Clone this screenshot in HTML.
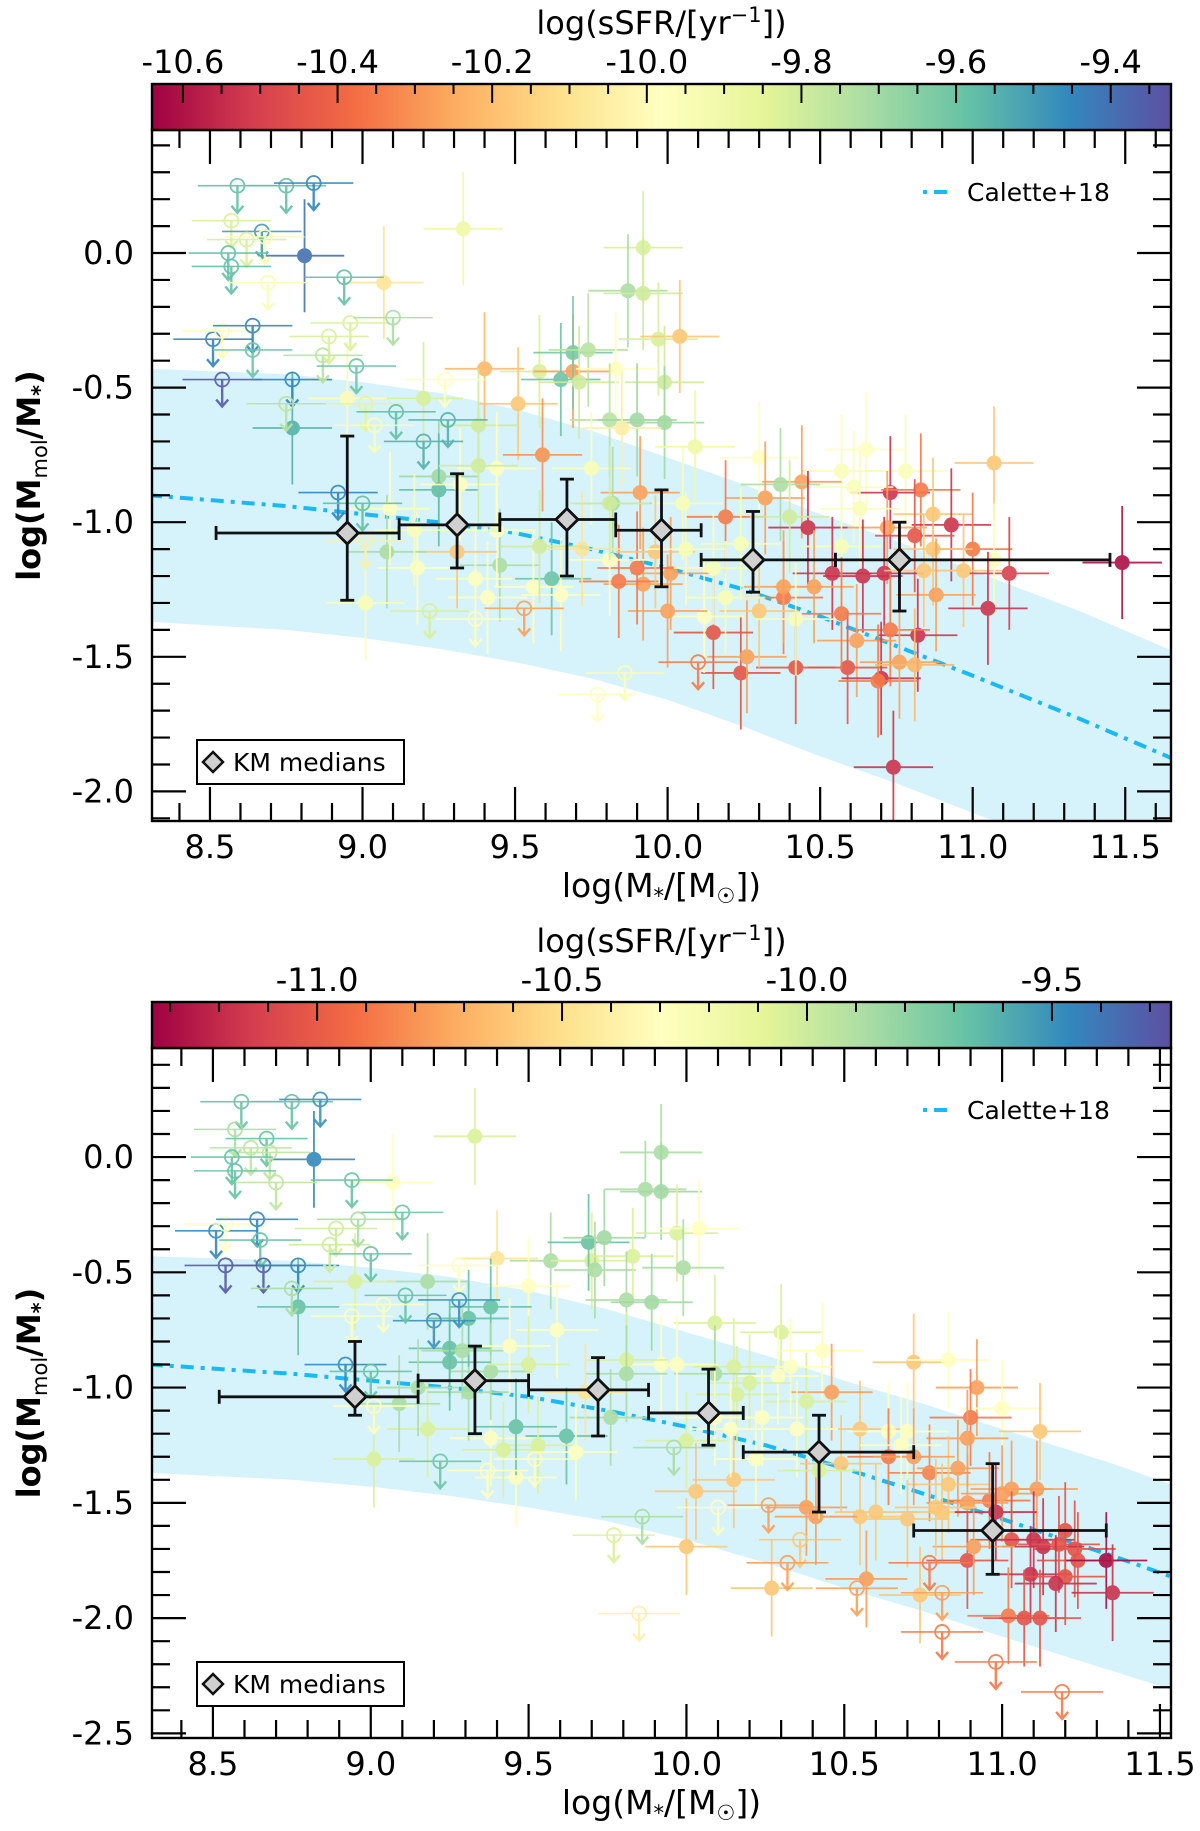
<!DOCTYPE html>
<html><head><meta charset="utf-8"><title>Mmol/M* vs M*</title>
<style>
html,body{margin:0;padding:0;background:#fff;}
svg{display:block;font-family:"DejaVu Sans","Liberation Sans",sans-serif;}
</style></head>
<body>
<svg id="fig" xmlns="http://www.w3.org/2000/svg" width="1200" height="1831" viewBox="0 0 1200 1831">
<defs>
<linearGradient id="spec" x1="0" x2="1" y1="0" y2="0">
<stop offset="0" stop-color="#9e0142"/><stop offset="0.1" stop-color="#d53e4f"/><stop offset="0.2" stop-color="#f46d43"/><stop offset="0.3" stop-color="#fdae61"/><stop offset="0.4" stop-color="#fee08b"/><stop offset="0.5" stop-color="#ffffbf"/><stop offset="0.6" stop-color="#e6f598"/><stop offset="0.7" stop-color="#abdda4"/><stop offset="0.8" stop-color="#66c2a5"/><stop offset="0.9" stop-color="#3288bd"/><stop offset="1" stop-color="#5e4fa2"/>
</linearGradient>
</defs>
</svg>
<script>
// ---------------- DATA ----------------
const topLimits = [[8.59,0.25,-9.58],[8.75,0.25,-9.58],[8.84,0.26,-9.45],[8.57,0.12,-9.82],[8.67,0.08,-9.5],[8.62,0.05,-9.82],[8.68,0.06,-9.95],[8.56,0.0,-9.58],[8.57,-0.05,-9.58],[8.69,-0.11,-9.95],[8.94,-0.09,-9.58],[8.51,-0.32,-9.45],[8.54,-0.29,-10.0],[8.64,-0.27,-9.45],[8.64,-0.36,-9.6],[8.54,-0.47,-9.35],[8.77,-0.47,-9.45],[8.75,-0.56,-9.75],[8.87,-0.38,-9.75],[8.89,-0.31,-9.82],[8.96,-0.26,-9.82],[9.1,-0.24,-9.72],[8.98,-0.42,-9.6],[8.92,-0.89,-9.45],[9.0,-0.93,-9.58],[9.01,-0.56,-9.85],[9.27,-0.47,-9.98],[9.28,-0.62,-9.55],[9.2,-0.7,-9.55],[9.11,-0.59,-9.58],[9.04,-0.64,-9.95],[9.22,-1.33,-9.82],[9.37,-1.36,-9.98],[9.53,-1.32,-10.27],[10.1,-1.52,-10.35],[9.86,-1.56,-9.95],[9.77,-1.64,-9.98],[9.01,-1.07,-10.05]];
const topPoints = [[8.81,-0.01,-9.4],[8.77,-0.65,-9.55],[9.07,-0.11,-10.09],[9.33,0.09,-9.9],[9.92,0.02,-9.82],[9.87,-0.14,-9.72],[9.92,-0.15,-9.8],[9.97,-0.32,-9.82],[10.04,-0.31,-10.18],[9.4,-0.43,-10.22],[9.58,-0.44,-9.82],[9.69,-0.44,-10.27],[9.65,-0.47,-9.6],[9.69,-0.37,-9.62],[9.74,-0.36,-9.75],[9.71,-0.48,-9.8],[9.83,-0.43,-9.98],[9.99,-0.48,-9.8],[9.51,-0.56,-10.18],[9.81,-0.62,-9.75],[9.9,-0.62,-9.7],[9.99,-0.63,-9.7],[9.85,-0.65,-10.05],[9.38,-0.64,-9.8],[9.2,-0.54,-9.82],[8.95,-0.54,-10.0],[9.59,-0.75,-10.3],[10.09,-0.72,-9.9],[10.3,-0.76,-9.98],[10.65,-0.73,-9.98],[11.07,-0.78,-10.18],[10.57,-0.81,-9.95],[10.78,-0.81,-9.95],[10.44,-0.85,-10.27],[10.37,-0.86,-9.72],[10.73,-0.89,-10.53],[10.83,-0.88,-10.35],[10.61,-0.87,-9.95],[10.32,-0.91,-10.27],[9.75,-0.8,-9.95],[9.44,-0.8,-9.98],[9.25,-0.83,-9.7],[9.25,-0.88,-9.58],[9.32,-0.86,-9.98],[9.38,-0.79,-9.8],[9.91,-0.89,-10.27],[10.05,-0.93,-9.95],[9.82,-0.93,-9.72],[10.87,-0.97,-10.18],[10.93,-1.01,-10.53],[10.46,-1.02,-10.53],[10.19,-0.98,-10.35],[10.4,-0.98,-9.8],[10.72,-1.02,-10.27],[10.81,-1.05,-10.44],[11.0,-1.1,-10.35],[10.87,-1.1,-10.18],[10.57,-1.09,-9.95],[10.54,-1.19,-10.53],[10.64,-1.2,-10.53],[10.71,-1.19,-10.53],[10.84,-1.18,-10.18],[10.97,-1.18,-10.18],[11.12,-1.19,-10.5],[11.07,-1.14,-9.95],[11.49,-1.15,-10.61],[11.05,-1.32,-10.53],[10.88,-1.27,-10.27],[10.82,-1.42,-10.53],[10.73,-1.4,-10.35],[10.62,-1.44,-10.27],[10.59,-1.54,-10.44],[10.7,-1.58,-10.53],[10.69,-1.59,-10.35],[10.76,-1.52,-10.27],[10.81,-1.53,-10.22],[10.74,-1.91,-10.53],[10.42,-1.54,-10.44],[10.24,-1.56,-10.44],[10.26,-1.5,-10.27],[10.15,-1.41,-10.44],[10.38,-1.28,-10.35],[10.48,-1.24,-10.27],[10.38,-1.24,-10.27],[10.3,-1.33,-10.18],[10.57,-1.34,-10.35],[10.42,-1.36,-9.95],[10.12,-1.35,-9.98],[10.19,-1.28,-9.95],[10.0,-1.33,-10.27],[10.01,-1.19,-10.27],[9.92,-1.23,-10.27],[9.84,-1.22,-10.35],[9.9,-1.17,-10.35],[9.96,-1.11,-10.18],[10.06,-1.1,-9.95],[10.15,-1.17,-9.95],[10.24,-1.08,-9.95],[9.62,-1.21,-9.6],[9.45,-1.16,-9.72],[9.56,-1.24,-9.98],[9.37,-1.21,-9.98],[9.41,-1.28,-9.98],[9.65,-1.27,-9.98],[9.72,-1.1,-10.09],[9.58,-1.09,-9.8],[9.44,-1.03,-9.98],[9.31,-1.11,-10.18],[9.18,-1.17,-9.98],[9.08,-1.11,-9.72],[9.01,-1.3,-9.95],[9.09,-0.95,-9.98],[9.17,-1.03,-9.95],[9.81,-1.14,-9.98],[9.81,-0.93,-9.8],[10.63,-0.95,-9.95]];
const topMedX = [8.95,9.31,9.67,9.98,10.28,10.76];
const topMedY = [-1.04,-1.01,-0.99,-1.03,-1.14,-1.14];
const topMedXlo = [8.52,9.12,9.45,9.83,10.11,10.55];
const topMedXhi = [9.12,9.45,9.83,10.11,10.55,11.45];
const topMedYlo = [-1.29,-1.17,-1.2,-1.24,-1.26,-1.33];
const topMedYhi = [-0.68,-0.82,-0.84,-0.88,-0.96,-1.0];
const topCbarTicks = [-10.6,-10.4,-10.2,-10.0,-9.8,-9.6,-9.4];
const topCbarLabels = ["-10.6","-10.4","-10.2","-10.0","-9.8","-9.6","-9.4"];

const botLimits = [[8.59,0.24,-9.68],[8.75,0.24,-9.68],[8.84,0.25,-9.5],[8.57,0.12,-9.88],[8.67,0.08,-9.68],[8.62,0.04,-9.95],[8.68,0.02,-9.95],[8.56,0.0,-9.68],[8.57,-0.06,-9.68],[8.7,-0.11,-9.95],[8.94,-0.1,-9.68],[8.51,-0.32,-9.47],[8.54,-0.29,-10.3],[8.64,-0.27,-9.47],[8.65,-0.36,-9.68],[8.54,-0.47,-9.3],[8.66,-0.47,-9.3],[8.77,-0.47,-9.47],[8.75,-0.57,-9.88],[8.87,-0.38,-10.0],[8.89,-0.31,-10.0],[8.96,-0.27,-9.88],[9.1,-0.24,-9.7],[9.0,-0.42,-9.68],[8.92,-0.9,-9.47],[9.0,-0.93,-9.68],[8.94,-0.69,-10.3],[9.28,-0.47,-10.3],[9.28,-0.62,-9.5],[9.2,-0.71,-9.5],[9.11,-0.6,-9.68],[9.04,-0.64,-10.3],[9.22,-1.32,-9.7],[9.37,-1.36,-10.3],[9.52,-1.31,-10.3],[9.96,-1.26,-9.88],[9.77,-1.64,-10.05],[9.86,-1.56,-9.88],[9.85,-1.98,-10.4],[10.26,-1.51,-10.76],[10.36,-1.66,-10.61],[10.32,-1.76,-10.76],[10.54,-1.87,-10.76],[10.77,-1.76,-10.88],[10.81,-1.89,-10.76],[10.81,-2.06,-10.88],[10.98,-2.19,-10.88],[11.19,-2.32,-10.88],[10.1,-1.52,-10.3],[9.01,-1.08,-10.3]];
const botPoints = [[8.82,-0.01,-9.47],[8.77,-0.65,-9.68],[9.07,-0.11,-10.3],[9.33,0.09,-10.05],[9.92,0.02,-9.88],[9.87,-0.14,-9.88],[9.92,-0.15,-9.85],[9.97,-0.33,-10.05],[10.04,-0.31,-10.3],[9.4,-0.44,-10.47],[9.57,-0.45,-9.88],[9.7,-0.45,-10.05],[9.69,-0.37,-9.68],[9.74,-0.35,-9.85],[9.71,-0.49,-9.88],[9.83,-0.43,-10.05],[9.99,-0.48,-9.88],[9.5,-0.56,-10.3],[9.81,-0.62,-9.88],[9.89,-0.63,-9.85],[9.59,-0.75,-10.3],[10.09,-0.72,-10.05],[10.3,-0.76,-10.05],[10.43,-0.84,-10.3],[10.72,-0.89,-10.61],[10.83,-0.88,-10.3],[10.92,-1.0,-10.76],[11.0,-1.09,-10.3],[11.12,-1.19,-10.61],[10.9,-1.13,-10.88],[10.89,-1.22,-10.76],[10.77,-1.37,-10.85],[10.86,-1.35,-10.76],[10.83,-1.42,-10.61],[11.03,-1.44,-10.76],[11.11,-1.44,-10.76],[10.96,-1.49,-10.88],[11.0,-1.46,-10.76],[10.89,-1.5,-10.76],[10.81,-1.54,-10.61],[10.98,-1.54,-11.17],[11.03,-1.66,-11.03],[11.1,-1.66,-11.17],[11.2,-1.62,-11.03],[11.23,-1.7,-11.03],[11.13,-1.69,-11.17],[11.18,-1.68,-11.03],[11.24,-1.75,-11.03],[11.33,-1.75,-11.3],[10.89,-1.75,-11.03],[10.91,-1.69,-10.76],[11.09,-1.81,-11.17],[11.2,-1.82,-11.03],[11.17,-1.85,-11.17],[11.35,-1.89,-11.17],[11.02,-1.99,-10.88],[11.07,-2.0,-11.03],[11.12,-2.0,-11.03],[10.74,-1.9,-10.61],[10.27,-1.87,-10.61],[10.57,-1.83,-10.76],[10.38,-1.52,-10.76],[10.55,-1.56,-10.61],[10.6,-1.54,-10.61],[10.7,-1.57,-10.61],[10.79,-1.52,-10.61],[10.0,-1.69,-10.61],[10.03,-1.45,-10.61],[10.15,-1.4,-10.61],[10.41,-1.56,-10.76],[10.49,-1.33,-10.61],[10.55,-1.18,-10.61],[10.64,-1.19,-10.3],[10.7,-1.19,-10.3],[10.64,-1.3,-10.88],[10.72,-1.3,-10.76],[10.68,-1.25,-10.3],[10.46,-1.02,-10.76],[10.38,-1.06,-10.05],[10.33,-0.91,-10.3],[10.29,-0.95,-10.3],[10.2,-0.98,-10.05],[10.15,-0.91,-10.05],[10.16,-1.03,-10.05],[10.09,-0.94,-9.88],[10.09,-1.13,-10.3],[10.0,-1.23,-10.05],[10.14,-1.18,-10.3],[10.24,-1.13,-10.3],[10.35,-1.18,-10.3],[10.42,-1.36,-10.05],[10.22,-1.31,-10.3],[9.97,-0.9,-10.3],[9.92,-0.9,-10.3],[9.81,-0.88,-10.05],[9.81,-0.94,-9.88],[9.76,-1.13,-9.88],[9.68,-1.02,-10.47],[9.62,-1.21,-9.68],[9.53,-1.25,-10.05],[9.65,-1.28,-10.3],[9.46,-1.39,-10.3],[9.38,-1.22,-10.3],[9.42,-1.27,-10.05],[9.46,-1.17,-9.68],[9.18,-1.18,-10.05],[9.01,-1.31,-10.05],[9.09,-1.07,-9.88],[9.31,-1.02,-9.88],[9.25,-0.83,-9.68],[9.31,-0.7,-9.68],[9.38,-0.65,-9.68],[9.29,-0.84,-9.88],[9.38,-0.93,-9.88],[9.5,-0.9,-10.05],[9.44,-0.82,-10.3],[9.18,-0.54,-9.88],[8.95,-0.54,-10.05],[9.25,-0.89,-9.68],[9.15,-1.0,-9.88]];
const botMedX = [8.95,9.33,9.72,10.07,10.42,10.97];
const botMedY = [-1.04,-0.97,-1.01,-1.11,-1.28,-1.62];
const botMedXlo = [8.52,9.15,9.5,9.88,10.18,10.72];
const botMedXhi = [9.15,9.5,9.88,10.18,10.72,11.33];
const botMedYlo = [-1.12,-1.2,-1.21,-1.25,-1.54,-1.81];
const botMedYhi = [-0.8,-0.82,-0.87,-0.92,-1.12,-1.33];
const botCbarTicks = [-11.0,-10.5,-10.0,-9.5];
const botCbarLabels = ["-11.0","-10.5","-10.0","-9.5"];

// model curves (shared)
const modelX = [8.3,8.75,9.0,9.25,9.5,9.75,10.0,10.25,10.5,10.75,11.0,11.35,11.7];
const bandUpper = [-0.43,-0.45,-0.48,-0.52,-0.58,-0.66,-0.76,-0.86,-0.97,-1.07,-1.18,-1.33,-1.5];
const bandLower = [-1.37,-1.4,-1.43,-1.47,-1.52,-1.58,-1.66,-1.76,-1.87,-1.97,-2.08,-2.23,-2.38];
const caletteY = [-0.9,-0.94,-0.97,-1.0,-1.04,-1.1,-1.17,-1.25,-1.35,-1.46,-1.57,-1.73,-1.9];

const topXTicks = [8.5,9.0,9.5,10.0,10.5,11.0,11.5];
const topYTicks = [0.0,-0.5,-1.0,-1.5,-2.0];
const botXTicks = [8.5,9.0,9.5,10.0,10.5,11.0,11.5];
const botYTicks = [0.0,-0.5,-1.0,-1.5,-2.0,-2.5];

// ---------------- DRAWING ----------------
const NS = "http://www.w3.org/2000/svg";
const svg = document.getElementById('fig');
const SPEC = ["#9e0142","#d53e4f","#f46d43","#fdae61","#fee08b","#ffffbf","#e6f598","#abdda4","#66c2a5","#3288bd","#5e4fa2"];
function hex(c){return [parseInt(c.slice(1,3),16),parseInt(c.slice(3,5),16),parseInt(c.slice(5,7),16)];}
function spectral(f){
  f=Math.max(0,Math.min(1,f));const p=f*10;const i=Math.min(9,Math.floor(p));const t=p-i;
  const a=hex(SPEC[i]),b=hex(SPEC[i+1]);
  return 'rgb('+a.map((v,k)=>Math.round(v+(b[k]-v)*t)).join(',')+')';
}
function mk(tag,attrs,parent){const e=document.createElementNS(NS,tag);for(const k in attrs)e.setAttribute(k,attrs[k]);(parent||svg).appendChild(e);return e;}
const ERRX=0.13, ERRY=0.21;

function panel(cfg){
  const g=mk('g',{});
  
  
  const X=v=>cfg.L+(v-cfg.xmin)/(cfg.xmax-cfg.xmin)*(cfg.R-cfg.L);
  const Y=v=>cfg.T+(cfg.ymax-v)/(cfg.ymax-cfg.ymin)*(cfg.B-cfg.T);
  const C=s=>spectral((s-cfg.vmin)/(cfg.vmax-cfg.vmin));
  const clip='clip'+cfg.id;
  const cp=mk('clipPath',{id:clip},g);mk('rect',{x:cfg.L,y:cfg.T,width:cfg.R-cfg.L,height:cfg.B-cfg.T},cp);
  const inner=mk('g',{'clip-path':'url(#'+clip+')'},g);
  let d='M'+modelX.map((x,i)=>X(x)+','+Y(bandUpper[i])).join(' L');
  d+=' L'+modelX.slice().reverse().map((x,i)=>X(x)+','+Y(bandLower[modelX.length-1-i])).join(' L')+'Z';
  const band=mk('path',{d:d,fill:'#d6f3fc'},inner);
  
  
  const line=mk('polyline',{points:modelX.map((x,i)=>X(x)+','+Y(caletteY[i])).join(' '),fill:'none',stroke:'#1ab8f5','stroke-width':4,'stroke-dasharray':'13 7 4 7'},inner);
  
  
  cfg.points.forEach(p=>{
    const c=C(p[2]);const cx=X(p[0]),cy=Y(p[1]);
    const e=mk('g',{stroke:c,'stroke-width':1.8,opacity:0.9},inner);
    
    
    mk('line',{x1:X(p[0]-ERRX),x2:X(p[0]+ERRX),y1:cy,y2:cy},e);
    mk('line',{x1:cx,x2:cx,y1:Y(p[1]+ERRY),y2:Y(p[1]-ERRY)},e);
    mk('circle',{cx:cx,cy:cy,r:7.5,fill:c,stroke:'none'},e);
  });
  cfg.limits.forEach(p=>{
    const c=C(p[2]);const cx=X(p[0]),cy=Y(p[1]);
    const e=mk('g',{stroke:c,'stroke-width':1.8,fill:'none',opacity:0.9},inner);
    
    
    mk('line',{x1:X(p[0]-ERRX),x2:X(p[0]+ERRX),y1:cy,y2:cy,'stroke-width':1.6},e);
    mk('circle',{cx:cx,cy:cy,r:7},e);
    mk('line',{x1:cx,x2:cx,y1:cy,y2:cy+27,'stroke-width':2.4},e);
    mk('polyline',{points:(cx-6)+','+(cy+20)+' '+cx+','+(cy+27)+' '+(cx+6)+','+(cy+20),'stroke-width':2.4},e);
  });
  cfg.medX.forEach((mx,i)=>{
    const e=mk('g',{stroke:'#111','stroke-width':2.8},inner);
    
    
    const cx=X(mx),cy=Y(cfg.medY[i]);
    const x1=X(cfg.medXlo[i]),x2=X(cfg.medXhi[i]),y1=Y(cfg.medYhi[i]),y2=Y(cfg.medYlo[i]);
    mk('line',{x1:x1,x2:x2,y1:cy,y2:cy},e);
    mk('line',{x1:cx,x2:cx,y1:y1,y2:y2},e);
    mk('line',{x1:x1,x2:x1,y1:cy-7,y2:cy+7},e);mk('line',{x1:x2,x2:x2,y1:cy-7,y2:cy+7},e);
    mk('line',{x1:cx-7,x2:cx+7,y1:y1,y2:y1},e);mk('line',{x1:cx-7,x2:cx+7,y1:y2,y2:y2},e);
    mk('polygon',{points:cx+','+(cy-11)+' '+(cx+11)+','+cy+' '+cx+','+(cy+11)+' '+(cx-11)+','+cy,fill:'#d0d0d0','stroke-width':2.8},e);
  });
  const fr=mk('rect',{x:cfg.L,y:cfg.T,width:cfg.R-cfg.L,height:cfg.B-cfg.T,fill:'none',stroke:'#000','stroke-width':2.4},g);
  
  
  const tk=mk('g',{stroke:'#000','stroke-width':2.2},g);
  for(let v=Math.ceil(cfg.xmin*10);v<=Math.floor(cfg.xmax*10);v++){
    const xv=v/10,major=(v%5===0),len=major?34:18,px=X(xv);
    mk('line',{x1:px,x2:px,y1:cfg.B,y2:cfg.B-len},tk);mk('line',{x1:px,x2:px,y1:cfg.T,y2:cfg.T+len},tk);
  }
  for(let v=Math.ceil(cfg.ymin*10);v<=Math.floor(cfg.ymax*10);v++){
    const yv=v/10,major=(v%5===0),len=major?34:18,py=Y(yv);
    mk('line',{x1:cfg.L,x2:cfg.L+len,y1:py,y2:py},tk);mk('line',{x1:cfg.R,x2:cfg.R-len,y1:py,y2:py},tk);
  }
  cfg.xticks.forEach(v=>{const t=mk('text',{x:X(v),y:cfg.B+37,'font-size':32,'text-anchor':'middle'},g);t.textContent=v.toFixed(1);
    });
  cfg.yticks.forEach(v=>{const t=mk('text',{x:cfg.L-18,y:Y(v)+11,'font-size':32,'text-anchor':'end'},g);t.textContent=v.toFixed(1);
    });
  const xt=mk('text',{x:(cfg.L+cfg.R)/2,y:cfg.B+76,'font-size':33,'text-anchor':'middle'},g);
  xt.innerHTML='log(M<tspan font-size="21" dy="6">*</tspan><tspan dy="-6">/[M</tspan><tspan font-size="21" dy="6">☉</tspan><tspan dy="-6">])</tspan>';
  
  const yc=(cfg.T+cfg.B)/2;
  const yt=mk('text',{x:40,y:yc,'font-size':32,'font-weight':'bold','text-anchor':'middle',transform:'rotate(-90 40 '+yc+')'},g);
  yt.innerHTML='log(M<tspan font-size="21" font-weight="normal" dy="7">mol</tspan><tspan dy="-7">/M</tspan><tspan font-size="21" dy="7">*</tspan><tspan dy="-7">)</tspan>';
  
  const cb=mk('g',{},g);
  
  mk('rect',{x:cfg.L,y:cfg.cbT,width:cfg.R-cfg.L,height:cfg.T-cfg.cbT,fill:'url(#spec)',stroke:'#000','stroke-width':2.4},cb);
  const CX=v=>cfg.L+(v-cfg.vmin)/(cfg.vmax-cfg.vmin)*(cfg.R-cfg.L);
  const step=cfg.cbMinor;
  for(let v=Math.ceil(cfg.vmin/step-1e-6);v<=Math.floor(cfg.vmax/step+1e-6);v++){
    const vv=v*step;const major=cfg.cbTicks.some(t=>Math.abs(t-vv)<1e-6);const px=CX(vv);
    mk('line',{x1:px,x2:px,y1:cfg.cbT,y2:cfg.cbT+(major?19:10),stroke:'#000','stroke-width':2},cb);
  }
  cfg.cbTicks.forEach((v,i)=>{const t=mk('text',{x:CX(v),y:cfg.cbT-11,'font-size':32,'text-anchor':'middle'},cb);t.textContent=cfg.cbLabels[i];
    });
  const ct=mk('text',{x:(cfg.L+cfg.R)/2,y:cfg.cbT-50,'font-size':32,'text-anchor':'middle'},cb);
  ct.innerHTML='log(sSFR/[yr<tspan font-size="21" dy="-12">−1</tspan><tspan dy="12">])</tspan>';
  
  const lg=mk('g',{},g);
  
  mk('line',{x1:923,x2:950,y1:cfg.T+62,y2:cfg.T+62,stroke:'#1ab8f5','stroke-width':4,'stroke-dasharray':'4 7 13 7'},lg);
  const lt=mk('text',{x:967,y:cfg.T+71,'font-size':25},lg);lt.textContent='Calette+18';
  const kg=mk('g',{},g);
  
  mk('rect',{x:197,y:cfg.kmY,width:207,height:44,fill:'#fff',stroke:'#000','stroke-width':2},kg);
  mk('polygon',{points:'213,'+(cfg.kmY+12)+' 223,'+(cfg.kmY+22)+' 213,'+(cfg.kmY+32)+' 203,'+(cfg.kmY+22),fill:'#d0d0d0',stroke:'#111','stroke-width':2.5},kg);
  const kt=mk('text',{x:233,y:cfg.kmY+31,'font-size':25},kg);kt.textContent='KM medians';
}

panel({id:'t',name:'top-panel',L:152,R:1171,T:130,B:821,xmin:8.31,xmax:11.65,ymin:-2.11,ymax:0.457,
  vmin:-10.64,vmax:-9.322,cbT:84,cbMinor:0.05,cbTicks:topCbarTicks,cbLabels:topCbarLabels,
  points:topPoints,limits:topLimits,medX:topMedX,medY:topMedY,medXlo:topMedXlo,medXhi:topMedXhi,medYlo:topMedYlo,medYhi:topMedYhi,
  xticks:topXTicks,yticks:topYTicks,kmY:740});
panel({id:'b',name:'bottom-panel',L:152,R:1171,T:1048,B:1738,xmin:8.307,xmax:11.535,ymin:-2.52,ymax:0.473,
  vmin:-11.337,vmax:-9.257,cbT:1002,cbMinor:0.1,cbTicks:botCbarTicks,cbLabels:botCbarLabels,
  points:botPoints,limits:botLimits,medX:botMedX,medY:botMedY,medXlo:botMedXlo,medXhi:botMedXhi,medYlo:botMedYlo,medYhi:botMedYhi,
  xticks:botXTicks,yticks:botYTicks,kmY:1662});
</script>
</body></html>
